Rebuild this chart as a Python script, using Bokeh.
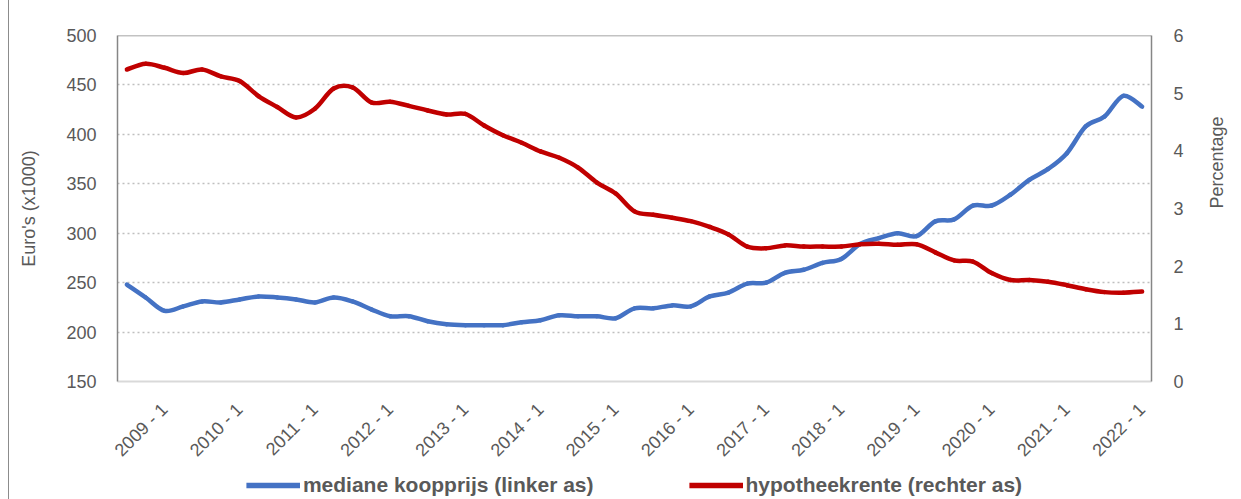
import math
from bokeh.plotting import figure
from bokeh.layouts import column
from bokeh.models import (LinearAxis, Range1d, FixedTicker, Legend, LegendItem,
                          Span, ColumnDataSource)
from bokeh.embed import file_html
from bokeh.resources import INLINE

# ---- data (quarterly, 2008 - 3 .. 2022 - 1) ----
periods = [f"{y} - {q}" for y in range(2008, 2023) for q in range(1, 5)][2:57]

mediane_koopprijs = [248, 235, 221.5, 226, 231, 230, 233, 236, 235, 233,
                     230, 235, 231, 223, 216, 216, 211, 208, 207, 207,
                     207, 210, 212, 217, 216, 216, 214, 224, 224, 227,
                     226, 236, 240, 249, 250, 260, 263, 270, 274, 289,
                     295, 300, 297, 312, 314, 328, 328, 339, 354, 365,
                     381, 408, 418, 439, 428]

hypotheekrente = [5.41, 5.51, 5.44, 5.35, 5.41, 5.29, 5.21, 4.95, 4.76, 4.58,
                  4.73, 5.08, 5.10, 4.84, 4.85, 4.78, 4.70, 4.63, 4.64, 4.44,
                  4.27, 4.14, 3.99, 3.88, 3.71, 3.45, 3.26, 2.95, 2.89, 2.84,
                  2.78, 2.68, 2.55, 2.34, 2.31, 2.36, 2.34, 2.34, 2.34, 2.38,
                  2.39, 2.37, 2.38, 2.24, 2.10, 2.08, 1.88, 1.76, 1.76, 1.73,
                  1.67, 1.60, 1.55, 1.54, 1.56]

left_ticks = [150, 200, 250, 300, 350, 400, 450, 500]
right_ticks = [0, 1, 2, 3, 4, 5, 6]
label_every = 4
label_first = 2
series_names = ["mediane koopprijs (linker as)", "hypotheekrente (rechter as)"]
series_colors = ["#4472C4", "#C00000"]

idx = list(range(len(periods)))


def smooth_segments(xs, ys):
    """Cubic Bezier segments through the data points (Excel-style smoothing)."""
    n = len(xs)
    d = dict(x0=[], y0=[], x1=[], y1=[], cx0=[], cy0=[], cx1=[], cy1=[])
    for i in range(n - 1):
        p0 = (xs[max(i - 1, 0)], ys[max(i - 1, 0)])
        p1 = (xs[i], ys[i])
        p2 = (xs[i + 1], ys[i + 1])
        p3 = (xs[min(i + 2, n - 1)], ys[min(i + 2, n - 1)])
        d["x0"].append(p1[0]); d["y0"].append(p1[1])
        d["x1"].append(p2[0]); d["y1"].append(p2[1])
        d["cx0"].append(p1[0] + (p2[0] - p0[0]) / 6)
        d["cy0"].append(p1[1] + (p2[1] - p0[1]) / 6)
        d["cx1"].append(p2[0] - (p3[0] - p1[0]) / 6)
        d["cy1"].append(p2[1] - (p3[1] - p1[1]) / 6)
    return ColumnDataSource(d)


FONT = "Liberation Sans"
TXT = "#595959"
FRAME = "#868686"
BG = "linear-gradient(to right, #fff 8px, #8c8c8c 8px, #8c8c8c 9px, #fff 9px)"

p = figure(width=1241, height=470, output_backend="svg", toolbar_location=None,
           x_range=Range1d(-0.5, len(periods) - 0.5), y_range=Range1d(150, 500),
           min_border_left=117, min_border_right=90, min_border_top=35,
           min_border_bottom=81)
p.styles = {"background": BG}
p.extra_y_ranges = {"pct": Range1d(0, 6)}
p.outline_line_color = None
p.background_fill_color = "white"
p.border_fill_color = None

# grid
p.xgrid.visible = False
p.ygrid.grid_line_color = "#bfbfbf"
p.ygrid.grid_line_dash = "2 3"
p.ygrid.grid_line_width = 1.5

# left axis
ya = p.yaxis[0]
ya.ticker = FixedTicker(ticks=left_ticks)
ya.axis_label = "Euro's (x1000)"
ya.axis_line_color = FRAME
ya.axis_line_width = 1.5
ya.major_tick_line_color = None
ya.minor_tick_line_color = None
ya.major_label_standoff = 15
ya.axis_label_standoff = 24

# right axis
ra = LinearAxis(y_range_name="pct", ticker=FixedTicker(ticks=right_ticks),
                axis_label="Percentage")
ra.axis_line_color = FRAME
ra.axis_line_width = 1.5
ra.major_tick_line_color = None
ra.minor_tick_line_color = None
ra.major_label_standoff = 16
ra.axis_label_standoff = 30
ra.axis_label_orientation = math.pi / 2
p.add_layout(ra, "right")

# bottom axis
xa = p.xaxis[0]
xa.ticker = FixedTicker(ticks=idx[label_first::label_every])
xa.major_label_overrides = {i: periods[i] for i in idx[label_first::label_every]}
xa.major_label_orientation = math.pi / 4
xa.axis_line_color = "#d9d9d9"
xa.axis_line_width = 2
xa.major_tick_line_color = None
xa.minor_tick_line_color = None
xa.major_label_standoff = 19

for ax in (ya, ra, xa):
    ax.major_label_text_font = FONT
    ax.major_label_text_font_size = "18px"
    ax.major_label_text_color = TXT
    ax.axis_label_text_font = FONT
    ax.axis_label_text_font_size = "18px"
    ax.axis_label_text_color = TXT
    ax.axis_label_text_font_style = "normal"

# top frame line
p.add_layout(Span(location=500, dimension="width", line_color=FRAME, line_width=1.5))

src_price = smooth_segments(idx, mediane_koopprijs)
src_rate = smooth_segments(idx, hypotheekrente)

p.bezier(x0="x0", y0="y0", x1="x1", y1="y1", cx0="cx0", cy0="cy0",
         cx1="cx1", cy1="cy1", source=src_price, line_color=series_colors[0],
         line_width=4.5, line_cap="round")
p.bezier(x0="x0", y0="y0", x1="x1", y1="y1", cx0="cx0", cy0="cy0",
         cx1="cx1", cy1="cy1", source=src_rate, y_range_name="pct",
         line_color=series_colors[1], line_width=4.5, line_cap="round")

# ---- legend strip below the chart ----
lg = figure(width=1241, height=29, output_backend="svg", toolbar_location=None,
            x_range=Range1d(-0.5, len(periods) - 0.5), y_range=Range1d(0, 1),
            x_axis_location=None, y_axis_location=None,
            min_border_left=23, min_border_right=0, min_border_top=0,
            min_border_bottom=0)
lg.styles = {"background": BG}
lg.outline_line_color = None
lg.background_fill_color = None
lg.border_fill_color = None
lg.grid.visible = False
# legend swatches reuse the series data (it lies outside this strip's 0..1 range)
src_legend = ColumnDataSource(dict(x=idx, price=mediane_koopprijs,
                                   rate=[v * 100 for v in hypotheekrente]))
lr = [lg.line(x="x", y=col, source=src_legend, line_color=c, line_width=5.5)
      for col, c in zip(["price", "rate"], series_colors)]

legend = Legend(items=[LegendItem(label=series_names[0], renderers=[lr[0]]),
                       LegendItem(label=series_names[1], renderers=[lr[1]])],
                orientation="horizontal", location="center")
legend.padding = 0
legend.margin = 0
legend.spacing = 95
legend.glyph_width = 54
legend.glyph_height = 22
legend.label_standoff = 3
legend.border_line_color = None
legend.background_fill_alpha = 0
legend.label_text_font = FONT
legend.label_text_font_size = "21px"
legend.label_text_font_style = "bold"
legend.label_text_color = TXT
lg.add_layout(legend)

layout = column(p, lg, spacing=0)
open("out.html", "w").write(file_html(layout, INLINE))
